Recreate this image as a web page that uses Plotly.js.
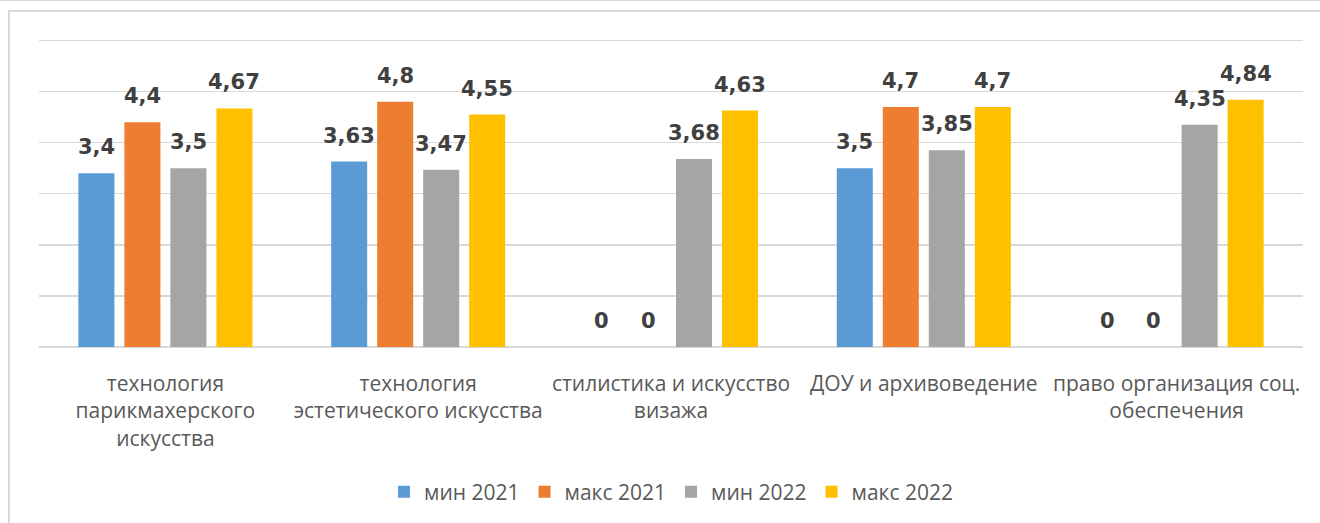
<!DOCTYPE html>
<html>
<head>
<meta charset="utf-8">
<script src="https://cdn.plot.ly/plotly-3.0.1.min.js"></script>
<style>
  html, body { margin: 0; padding: 0; background: #ffffff; overflow: hidden; }
  #topline { position: absolute; left: 0; top: 0; width: 1320px; height: 1px; background: #d9d9d9; }
  #frame { position: absolute; left: 8px; top: 10px; width: 1340px; height: 540px; border: 2px solid #d9d9d9; box-sizing: border-box; }
  #chart { position: absolute; left: 0; top: 0; width: 1320px; height: 523px; }
</style>
</head>
<body>
<div id="topline"></div>
<div id="frame"></div>
<div id="chart"></div>
<script>
const categories = [
  "технология<br>парикмахерского<br>искусства",
  "технология<br>эстетического искусства",
  "стилистика и искусство<br>визажа",
  "ДОУ и архивоведение",
  "право организация соц.<br>обеспечения"
];
const seriesNames = ["мин 2021", "макс 2021", "мин 2022", "макс 2022"];
const min2021 = [3.4, 3.63, 0, 3.5, 0];
const max2021 = [4.4, 4.8, 0, 4.7, 0];
const min2022 = [3.5, 3.47, 3.68, 3.85, 4.35];
const max2022 = [4.67, 4.55, 4.63, 4.7, 4.84];
const colors = ["#5B9BD5", "#ED7D31", "#A5A5A5", "#FFC000"];

const series = [min2021, max2021, min2022, max2022];
const xIdx = categories.map((c, i) => i);
const BARGAP = 0.272, BARGROUPGAP = 0.217;
const slot = (1 - BARGAP) / series.length;

const fmt = v => String(v).replace('.', ',');

const traces = series.map((vals, j) => ({
  type: 'bar',
  name: seriesNames[j],
  x: xIdx,
  y: vals,
  marker: { color: colors[j] },
  hoverinfo: 'none'
}));

const annotations = [];
series.forEach((vals, j) => {
  vals.forEach((v, i) => {
    annotations.push({
      x: i + (j - (series.length - 1) / 2) * slot,
      y: v,
      xref: 'x', yref: 'y',
      text: fmt(v),
      showarrow: false,
      xanchor: 'center', yanchor: 'bottom',
      yshift: 12,
      font: { family: 'DejaVu Sans', size: 21, color: '#404040', weight: 'bold' }
    });
  });
});

const layout = {
  width: 1320, height: 523,
  margin: { l: 39, r: 17, t: 37.9, b: 174.7, pad: 0 },
  paper_bgcolor: 'rgba(0,0,0,0)',
  plot_bgcolor: 'rgba(0,0,0,0)',
  barmode: 'group',
  bargap: BARGAP,
  bargroupgap: BARGROUPGAP,
  font: { family: 'Open Sans', color: '#595959' },
  xaxis: {
    type: 'linear',
    range: [-0.5, categories.length - 0.5],
    tickvals: xIdx,
    ticktext: categories,
    showgrid: false, zeroline: false, showline: false,
    ticks: '', ticklen: 0,
    tickfont: { family: 'Open Sans', size: 21, color: '#595959' },
    ticklabelstandoff: 22,
    fixedrange: true
  },
  yaxis: {
    range: [0, 6.05],
    tickvals: [0, 1, 2, 3, 4, 5, 6],
    showticklabels: false,
    showgrid: true, gridcolor: '#d9d9d9', gridwidth: 1.3,
    zeroline: true, zerolinecolor: '#d9d9d9', zerolinewidth: 1.3,
    showline: false,
    fixedrange: true
  },
  showlegend: true,
  legend: {
    orientation: 'h',
    x: 0.5, xanchor: 'center',
    y: -0.4645, yanchor: 'middle',
    font: { family: 'Open Sans', size: 21, color: '#595959' },
    traceorder: 'normal',
    itemwidth: 30
  },
  annotations: annotations
};

Plotly.newPlot('chart', traces, layout, { displayModeBar: false, staticPlot: true });
</script>
</body>
</html>
